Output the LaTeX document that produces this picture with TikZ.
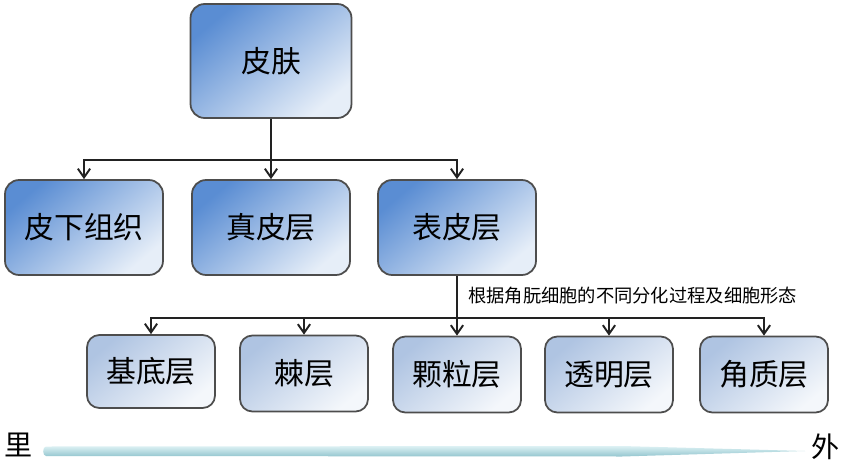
\documentclass[tikz,border=0pt]{standalone}
\usepackage{fontspec}
\setmainfont{Noto Sans CJK SC}
\usetikzlibrary{arrows.meta,positioning}
\definecolor{boxblue}{HTML}{5A8DD3}
\definecolor{boxpale}{HTML}{E6EEF8}
\definecolor{laydark}{HTML}{AFC4E2}
\definecolor{laypale}{HTML}{F4F7FB}
\definecolor{frame}{HTML}{4D4D4D}
\definecolor{wire}{HTML}{222222}
\definecolor{bartop}{HTML}{DDF1F4}
\definecolor{barbot}{HTML}{93C6CF}
\tikzset{
  organ/.style={draw=frame, line width=1pt, rounded corners=8pt,
    top color=boxblue, bottom color=boxpale, shading angle=40,
    font=\fontsize{17}{20}\selectfont, minimum width=3.16cm, minimum height=1.9cm},
  layer/.style={draw=frame, line width=1pt, rounded corners=7pt,
    top color=laydark, bottom color=laypale, shading angle=40,
    font=\fontsize{17}{20}\selectfont, minimum width=2.56cm, minimum height=1.52cm},
  link/.style={draw=wire, line width=1.1pt, -{Straight Barb[length=5pt,width=7pt]}},
  wireline/.style={draw=wire, line width=1.1pt},
  labm/.style={font=\fontsize{10.4}{12}\selectfont},
  ends/.style={font=\fontsize{16}{18}\selectfont}
}
\begin{document}
\begin{tikzpicture}[x=0.02cm,y=-0.02cm]
  \useasboundingbox[fill=white] (0,0) rectangle (850,467);

  % top
  \node[organ, minimum width=3.22cm, minimum height=2.28cm] (skin) at (271,61) {皮肤};

  % second row
  \node[organ] (sub) at (84,227.5) {皮下组织};
  \node[organ] (dermis) at (271,227.5) {真皮层};
  \node[organ] (epi) at (457,227.5) {表皮层};

  \coordinate (j1) at (271,160);
  \draw[wireline] (skin.south) -- (j1);
  \draw[link] (j1) -| (sub.north);
  \draw[link] (j1) -- (dermis.north);
  \draw[link] (j1) -| (epi.north);

  % third row
  \node[layer, minimum height=1.46cm] (basal) at (151,371.5) {基底层};
  \node[layer] (spinous) at (304,373.5) {棘层};
  \node[layer] (granular) at (457,374.5) {颗粒层};
  \node[layer] (lucid) at (609,374.5) {透明层};
  \node[layer] (horny) at (764,374.5) {角质层};

  \coordinate (j2) at (457,318);
  \draw[wireline] (epi.south) -- (j2);
  \node[labm, anchor=west] (basis) at (462,296) {根据角朊细胞的不同分化过程及细胞形态};
  \foreach \n in {basal,spinous,granular,lucid,horny}
    \draw[link] (j2) -| (\n.north);

  % inside -> outside
  \node[ends] (inner) at (19,445) {里};
  \node[ends] (outer) at (826,447) {外};
  \shade[top color=bartop, bottom color=barbot]
    (46,446.5) -- (622,446) -- (805,451) -- (622,456.5) -- (46,456)
    to[out=180,in=180] (46,446.5) -- cycle;
\end{tikzpicture}
\end{document}
